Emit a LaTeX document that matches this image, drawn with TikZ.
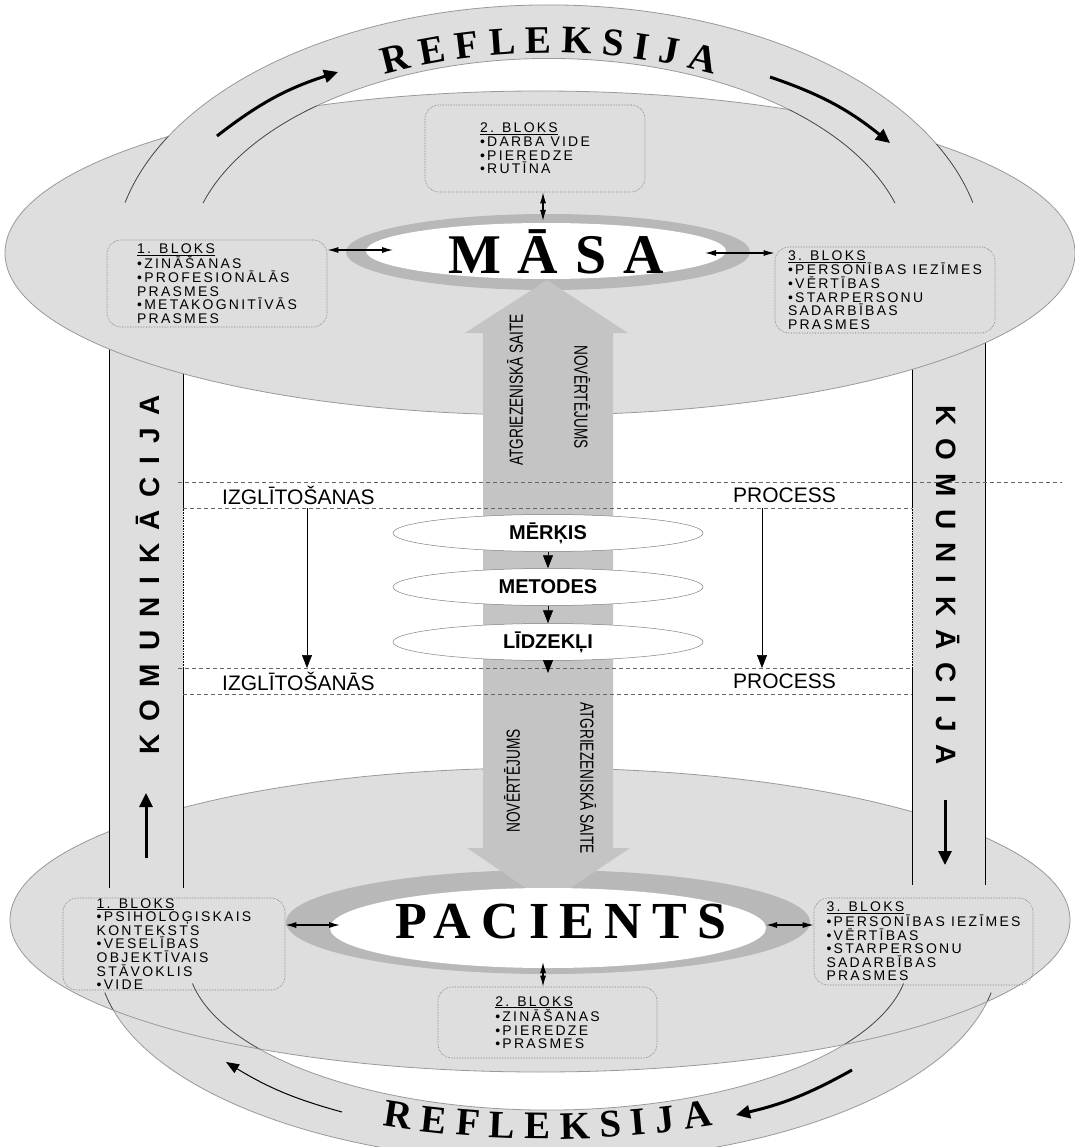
\documentclass[tikz,border=0pt]{standalone}
\usepackage{graphicx}
\usepackage{fontspec}
\setmainfont{Liberation Serif}
\newfontfamily\arialf{Liberation Sans}
\newfontfamily\blokfont{Liberation Sans}[LetterSpace=16]
\newfontfamily\komfont{Liberation Sans}[LetterSpace=46]
\newfontfamily\masafont{Liberation Serif}[LetterSpace=30]
\newfontfamily\pacfont{Liberation Serif}[LetterSpace=20]
\usetikzlibrary{arrows.meta,positioning,decorations.text,shapes.geometric}
\definecolor{discgray}{gray}{0.87}
\definecolor{shaftgray}{gray}{0.77}
\definecolor{ringgray}{gray}{0.72}
\definecolor{rimgray}{gray}{0.6}
\newcommand\reflfont{\fontsize{39}{39}\selectfont\bfseries}

\begin{document}
\begin{tikzpicture}[x=1pt, y=-1pt,
    rim/.style={draw=rimgray, line width=0.8pt},
    bandline/.style={draw=black!75, line width=0.6pt},
    pillarline/.style={draw=black, line width=0.6pt},
    blok/.style={draw=black!55, densely dotted, line width=0.6pt, rounded corners=14pt, align=left, inner sep=0pt, font=\blokfont\fontsize{14}{13.6}\selectfont},
    goal/.style={ellipse, draw=black!50, line width=0.5pt, fill=white, minimum width=310pt, minimum height=37pt, inner sep=0pt, font=\arialf\bfseries\fontsize{20}{20}\selectfont},
    proc/.style={anchor=west, inner sep=0pt, font=\arialf\fontsize{21}{21}\selectfont},
    shafttext/.style={inner sep=0pt, font=\arialf\fontsize{19}{19}\selectfont},
    komtext/.style={inner sep=0pt, font=\komfont\bfseries\fontsize{28}{28}\selectfont},
    dbl/.style={{Latex[length=11pt,width=6pt]}-{Latex[length=11pt,width=6pt]}, line width=1.2pt},
    thickarr/.style={-{Triangle[length=14pt,width=13pt]}, line width=3pt},
    thinarr/.style={-{Triangle[length=13pt,width=10pt]}, line width=0.6pt},
    procline/.style={draw=black!60, line width=0.5pt, dash pattern=on 4pt off 3pt}
    ]
    \useasboundingbox (0,0) rectangle (1074,1147);
    \fill[white] (0,0) rectangle (1074,1147);

    % lower reflection band and patient disc
    \fill[discgray] (104.8,992.6) arc[start angle=170, end angle=10, x radius=450, y radius=205] -- (903.5,983.6) arc[start angle=10, end angle=170, x radius=361, y radius=153] -- cycle;
    \fill[discgray] (540,920) ellipse [x radius=530, y radius=152];
    \draw[rim] (104.8,992.6) arc[start angle=170, end angle=10, x radius=450, y radius=205];
    \draw[rim] (192.5,983.6) arc[start angle=170, end angle=10, x radius=361, y radius=153];
    \begin{scope}
        \clip (540,920) ellipse [x radius=530, y radius=152];
        \draw[bandline] (104.8,992.6) arc[start angle=170, end angle=10, x radius=450, y radius=205];
        \draw[bandline] (192.5,983.6) arc[start angle=170, end angle=10, x radius=361, y radius=153];
    \end{scope}
    \draw[rim] (540,920) ellipse [x radius=530, y radius=152];

    % communication pillars
    \fill[discgray] (109,300) rectangle (183,888);
    \fill[discgray] (912,300) rectangle (985,885);
    \draw[pillarline] (109,300) -- (109,888);
    \draw[pillarline] (183,300) -- (183,507) (183,668) -- (183,888);
    \draw[pillarline, densely dotted] (183,507) -- (183,668);
    \draw[pillarline] (985,300) -- (985,885);
    \draw[pillarline] (912,300) -- (912,507) (912,668) -- (912,885);
    \draw[pillarline, densely dotted] (912,507) -- (912,668);

    % nurse disc and upper reflection band
    \fill[discgray] (540,253) ellipse [x radius=535, y radius=162];
    \draw[rim] (540,253) ellipse [x radius=535, y radius=162];
    \fill[discgray] (125.1,202.6) arc[start angle=193, end angle=347, x radius=435, y radius=255] -- (895,203.1) arc[start angle=343.6, end angle=196.4, x radius=360.7, y radius=201.5] -- cycle;
    \draw[rim] (125.1,202.6) arc[start angle=193, end angle=347, x radius=435, y radius=255];
    \draw[rim] (203,203.1) arc[start angle=196.4, end angle=343.6, x radius=360.7, y radius=201.5];
    \begin{scope}
        \clip (540,253) ellipse [x radius=535, y radius=162];
        \draw[bandline] (125.1,202.6) arc[start angle=193, end angle=347, x radius=435, y radius=255];
        \draw[bandline] (203,203.1) arc[start angle=196.4, end angle=343.6, x radius=360.7, y radius=201.5];
    \end{scope}

    \path[decorate, decoration={text along path, text align=center, text={|\reflfont|R E F L E K S I J A}}]
        (311.2,101.4) arc[start angle=230, end angle=310, x radius=370, y radius=207];
    \path[decorate, decoration={text along path, text align=center, text={|\reflfont|R E F L E K S I J A}}]
        (362,1122) arc[start angle=115, end angle=65, x radius=440, y radius=181];

    \coordinate (reflA1) at (217,136);
    \coordinate (reflA2) at (338,72);
    \coordinate (reflB1) at (770,77);
    \coordinate (reflB2) at (890,143);
    \coordinate (reflC1) at (852,1070);
    \coordinate (reflC2) at (736,1115);
    \coordinate (reflD1) at (342,1112);
    \coordinate (reflD2) at (226,1062);
    \draw[thickarr] (reflA1) to[bend left=10] (reflA2);
    \draw[thickarr] (reflB1) to[bend left=10] (reflB2);
    \draw[thickarr] (reflC1) to[bend left=8] (reflC2);
    \draw[thinarr, line width=1pt] (reflD1) to[bend left=8] (reflD2);

    % feedback column
    \fill[ringgray] (548,252) ellipse [x radius=202, y radius=38];
    \fill[ringgray] (548,922) ellipse [x radius=262, y radius=52];
    \fill[shaftgray] (547,280) -- (628,333) -- (613,333) -- (613,848) -- (630,848) -- (548,903)
        -- (467,848) -- (483,848) -- (483,333) -- (465,333) -- cycle;

    \node[ellipse, fill=white, minimum width=360pt, minimum height=56pt, inner sep=0pt] (masa) at (546,251) {};
    \node[inner sep=0pt, font=\masafont\bfseries\fontsize{56}{56}\selectfont] (masaText) at (556,252) {MĀSA};
    \node[ellipse, fill=white, minimum width=436pt, minimum height=80pt, inner sep=0pt] (pacients) at (548,928) {};
    \node[inner sep=0pt, font=\pacfont\bfseries\fontsize{52}{52}\selectfont] (pacText) at (561,922) {PACIENTS};

    \node[shafttext, rotate=90] (saiteTop) at (515,390) {\scalebox{0.72}[1]{ATGRIEZENISKĀ SAITE}};
    \node[shafttext, rotate=-90] (vertTop) at (582,397) {\scalebox{0.72}[1]{NOVĒRTĒJUMS}};
    \node[shafttext, rotate=90] (vertBot) at (512,781) {\scalebox{0.72}[1]{NOVĒRTĒJUMS}};
    \node[shafttext, rotate=-90] (saiteBot) at (588,778) {\scalebox{0.72}[1]{ATGRIEZENISKĀ SAITE}};

    % blocks
    \node[blok, minimum width=220pt, minimum height=87pt] (blokTwoTop) at (535,148.5)
        {\underline{2. BLOKS}\\•DARBA VIDE\\•PIEREDZE\\•RUTĪNA};
    \node[blok, minimum width=220pt, minimum height=87pt] (blokOneTop) at (217,283.5)
        {\underline{1. BLOKS}\\•ZINĀŠANAS\\•PROFESIONĀLĀS\\PRASMES\\•METAKOGNITĪVĀS\\PRASMES};
    \node[blok, minimum width=220pt, minimum height=86pt] (blokThreeTop) at (885,290)
        {\underline{3. BLOKS}\\•PERSONĪBAS IEZĪMES\\•VĒRTĪBAS\\•STARPERSONU\\SADARBĪBAS\\PRASMES};
    \node[blok, minimum width=222pt, minimum height=92pt] (blokOneBot) at (174,944)
        {\underline{1. BLOKS}\\•PSIHOLOĢISKAIS\\KONTEKSTS\\•VESELĪBAS\\OBJEKTĪVAIS\\STĀVOKLIS\\•VIDE};
    \node[blok, minimum width=219pt, minimum height=71pt] (blokTwoBot) at (547.5,1022.5)
        {\underline{2. BLOKS}\\•ZINĀŠANAS\\•PIEREDZE\\•PRASMES};
    \node[blok, minimum width=219pt, minimum height=87pt] (blokThreeBot) at (923.5,941.5)
        {\underline{3. BLOKS}\\•PERSONĪBAS IEZĪMES\\•VĒRTĪBAS\\•STARPERSONU\\SADARBĪBAS\\PRASMES};

    \coordinate (masaL) at (393,250);
    \coordinate (masaR) at (705,253);
    \coordinate (masaT) at (543,221);
    \coordinate (pacL) at (340,925);
    \coordinate (pacR) at (766,925);
    \coordinate (pacB) at (543,962);
    \draw[dbl] (blokOneTop.east |- masaL) -- (masaL);
    \draw[dbl] (masaR) -- (blokThreeTop.west |- masaR);
    \draw[dbl] (masaT |- blokTwoTop.south) -- (masaT);
    \draw[dbl] (blokOneBot.east |- pacL) -- (pacL);
    \draw[dbl] (pacR) -- (blokThreeBot.west |- pacR);
    \draw[dbl] (pacB) -- (pacB |- blokTwoBot.north);

    % education process
    \draw[procline] (178,482) -- (1062,482);
    \draw[procline] (183,508) -- (912,508);
    \draw[procline] (178,668) -- (912,668);
    \draw[procline] (183,694) -- (912,694);
    \node[proc] (izglTop) at (222,495) {IZGLĪTOŠANAS};
    \node[proc] (procTop) at (733,495) {PROCESS};
    \node[proc] (izglBot) at (222,681) {IZGLĪTOŠANĀS};
    \node[proc] (procBot) at (733,681) {PROCESS};
    \coordinate (leftTail) at (307,508);
    \coordinate (leftTip) at (307,668);
    \coordinate (rightTail) at (762,508);
    \coordinate (rightTip) at (762,668);
    \draw[thinarr] (leftTail) -- (leftTip);
    \draw[thinarr] (rightTail) -- (rightTip);

    \node[goal] (merkis) at (548,533) {MĒRĶIS};
    \node[goal] (metodes) at (548,587) {METODES};
    \node[goal] (lidzekli) at (548,642) {LĪDZEKĻI};
    \coordinate (lowTip) at (548,673);
    \draw[thinarr] (merkis.south) -- (metodes.north);
    \draw[thinarr] (metodes.south) -- (lidzekli.north);
    \draw[thinarr] (lidzekli.south) -- (lowTip);

    % communication
    \node[komtext, rotate=90] (komLeft) at (148,575) {KOMUNIKĀCIJA};
    \node[komtext, rotate=-90] (komRight) at (948,585) {KOMUNIKĀCIJA};
    \coordinate (komUp1) at (146,858);
    \coordinate (komUp2) at (146,793);
    \coordinate (komDn1) at (945,800);
    \coordinate (komDn2) at (945,865);
    \draw[thickarr] (komUp1) -- (komUp2);
    \draw[thickarr] (komDn1) -- (komDn2);
\end{tikzpicture}
\end{document}
